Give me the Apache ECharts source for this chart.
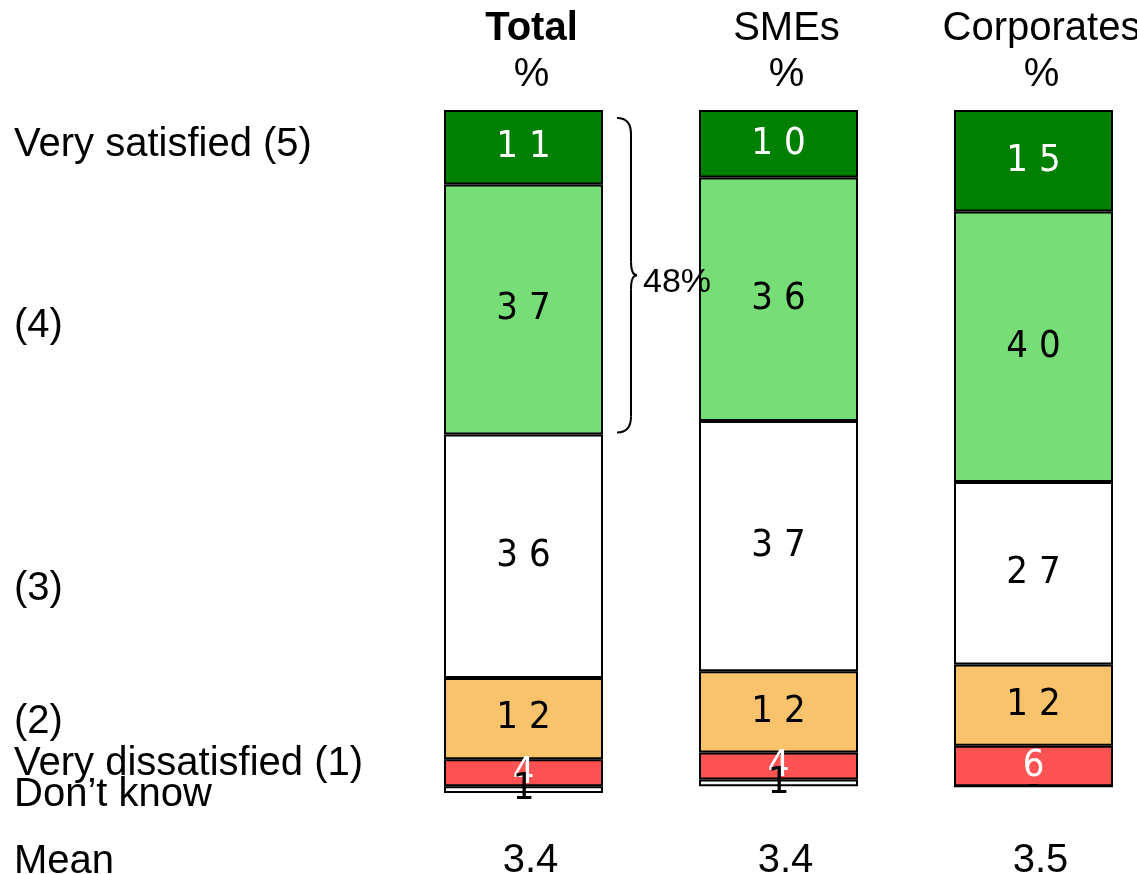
<!DOCTYPE html>
<html lang="en">
<head>
    <meta charset="UTF-8">
    <title>Satisfaction</title>
    <script src="https://cdn.jsdelivr.net/npm/echarts@6/dist/echarts.min.js"></script>
    <style>
        body { margin: 0; background: #fff; }
        #main { width: 1137px; height: 874px; }
    </style>
</head>
<body>
<div id="main"></div>
<script>
    // 列（分组）
    var groups = ['Total', 'SMEs', 'Corporates'];
    // 每组的平均值
    var means = ['3.4', '3.4', '3.5'];
    // 各档次名称（从上往下堆叠）
    var levels = ['Very satisfied (5)', '(4)', '(3)', '(2)', 'Very dissatisfied (1)', 'Don\u2019t know'];
    // 各档次数值
    var verySatisfied = [11, 10, 15];
    var satisfied4 = [37, 36, 40];
    var neutral3 = [36, 37, 27];
    var dissatisfied2 = [12, 12, 12];
    var veryDissatisfied = [4, 4, 6];
    var dontKnow = [1, 1, 0];
    // 括号标注
    var bracketText = '48%';

    var colors = ['#008000', '#77DD77', '#FFFFFF', '#F8C36A', '#FF5252', '#FFFFFF'];
    var labelColors = ['#fff', '#000', '#000', '#000', '#fff', '#000'];
    var seriesValues = [verySatisfied, satisfied4, neutral3, dissatisfied2, veryDissatisfied, dontKnow];
    var FONT = '"Liberation Sans", Arial, sans-serif';

    var myChart = echarts.init(document.getElementById('main'));

    var series = [];
    for (var i = 0; i < levels.length; i++) {
        series.push({
            name: levels[i],
            type: 'bar',
            stack: 'all',
            barWidth: 159,
            data: seriesValues[i],
            itemStyle: {color: colors[i], borderColor: '#000', borderWidth: 2},
            label: {
                show: true,
                position: 'inside',
                color: labelColors[i],
                fontFamily: "'Liberation Sans Narrow', 'DejaVu Sans Condensed', sans-serif",
                fontSize: 38,
                formatter: function (p) {
                    if (p.value === 0) return '-';
                    return String(p.value).split('').join(' ');
                }
            }
        });
    }

    var option = {
        animation: false,
        grid: {left: 396, top: 110, width: 765, height: 683, outerBoundsMode: 'none', containLabel: false},
        xAxis: [
            {
                type: 'category',
                position: 'top',
                data: groups,
                axisLine: {show: false},
                axisTick: {show: false},
                axisLabel: {
                    margin: 12,
                    padding: [0, 0, 0, 16],
                    formatter: function (v, idx) {
                        return idx === 0 ? '{b|' + v + '}\n{n|%}' : '{n|' + v + '}\n{n|%}';
                    },
                    rich: {
                        b: {fontFamily: FONT, fontSize: 40, fontWeight: 'bold', color: '#000', lineHeight: 46},
                        n: {fontFamily: FONT, fontSize: 40, color: '#000', lineHeight: 46}
                    }
                }
            },
            {
                type: 'category',
                position: 'bottom',
                data: groups,
                axisLine: {show: false},
                axisTick: {show: false},
                axisLabel: {
                    margin: 48,
                    padding: [0, 0, 0, 14],
                    fontFamily: FONT,
                    fontSize: 40,
                    color: '#000',
                    formatter: function (v, idx) { return means[idx]; }
                }
            }
        ],
        yAxis: {
            type: 'value',
            inverse: true,
            min: 0,
            max: 101,
            show: false
        },
        series: series
    };
    myChart.setOption(option);

    // 左侧档次文字与 Mean
    var leftY = [145, 326, 589, 722, 764, 795, 862];
    var leftTexts = levels.concat(['Mean']);
    var graphics = [];
    for (var j = 0; j < leftTexts.length; j++) {
        graphics.push({
            type: 'text',
            x: 14,
            y: leftY[j],
            style: {text: leftTexts[j], font: '40px ' + FONT, fill: '#000', verticalAlign: 'middle'}
        });
    }

    // 括号：覆盖 Total 的 (5)+(4)
    var top48 = myChart.convertToPixel({yAxisIndex: 0}, 0) + 8;
    var bot48 = myChart.convertToPixel({yAxisIndex: 0}, verySatisfied[0] + satisfied4[0]) - 2;
    var mid48 = (top48 + bot48) / 2;
    var bx = 617, vx = bx + 14, tip = bx + 20;
    var braceStyle = {fill: null, stroke: '#000', lineWidth: 2};
    graphics.push(
        {type: 'bezierCurve', shape: {x1: bx, y1: top48, cpx1: vx, cpy1: top48, x2: vx, y2: top48 + 16}, style: braceStyle},
        {type: 'line', shape: {x1: vx, y1: top48 + 16, x2: vx, y2: mid48 - 14}, style: braceStyle},
        {type: 'bezierCurve', shape: {x1: vx, y1: mid48 - 14, cpx1: vx, cpy1: mid48, x2: tip, y2: mid48}, style: braceStyle},
        {type: 'bezierCurve', shape: {x1: tip, y1: mid48, cpx1: vx, cpy1: mid48, x2: vx, y2: mid48 + 14}, style: braceStyle},
        {type: 'line', shape: {x1: vx, y1: mid48 + 14, x2: vx, y2: bot48 - 16}, style: braceStyle},
        {type: 'bezierCurve', shape: {x1: vx, y1: bot48 - 16, cpx1: vx, cpy1: bot48, x2: bx, y2: bot48}, style: braceStyle},
        {
            type: 'text',
            x: 643,
            y: mid48 + 7,
            z: 100,
            style: {text: bracketText, font: '34px ' + FONT, fill: '#000', verticalAlign: 'middle'}
        }
    );
    myChart.setOption({graphic: graphics});
</script>
</body>
</html>
